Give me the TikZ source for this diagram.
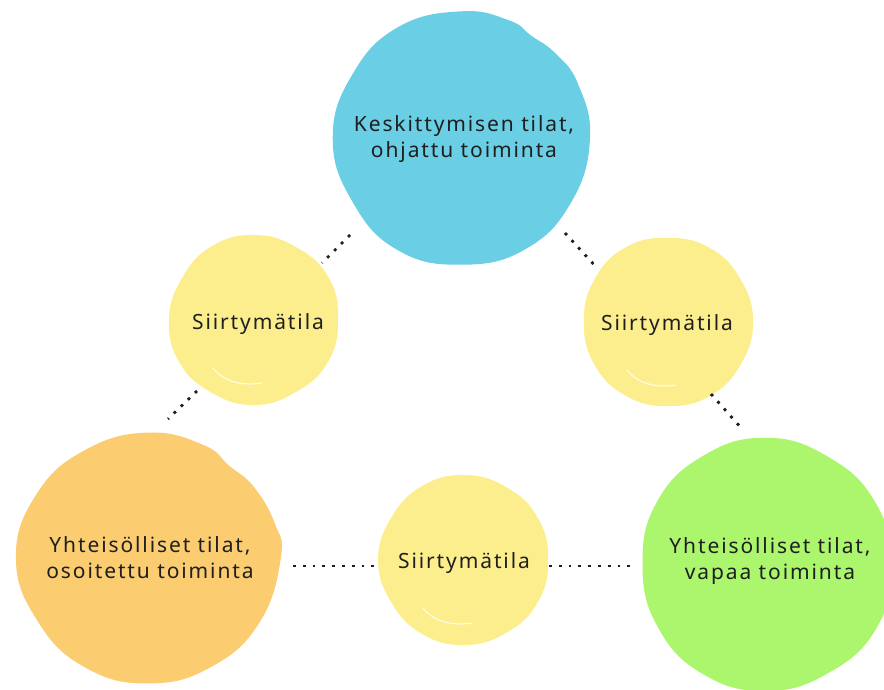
\documentclass[tikz,border=0pt]{standalone}
\usepackage{fontspec}
\setmainfont{Noto Sans}[LetterSpace=9]

\definecolor{focusblue}{RGB}{106,206,228}
\definecolor{transyellow}{RGB}{252,238,140}
\definecolor{guidedorange}{RGB}{251,205,112}
\definecolor{freegreen}{RGB}{172,246,110}
\definecolor{dotgray}{RGB}{30,30,30}

% a hand-painted disc: colour, centre, radius, wobbly outline (unit radius)
\newcommand\paintblob[4]{%
  \fill[#1, shift={#2}, scale=#3]
    plot[smooth cycle, tension=0.75] coordinates {#4};}
% light brush streak on the yellow discs
\newcommand\brushstreak[1]{%
  \draw[white, line width=1.2pt, opacity=0.8, line cap=round, shift={#1}]
    (-41,48) .. controls (-30,62) and (-12,66) .. (8,63);}

\begin{document}
\begin{tikzpicture}[x=1pt,y=-1pt,
  blobtext/.style={align=center, font=\fontsize{21}{26}\selectfont,
                   text=black!88, inner sep=0pt},
  dotlink/.style={dotgray, line width=2.8pt, dash pattern=on 2.8pt off 7pt}]
\useasboundingbox (0,0) rectangle (884,690);
\clip (0,0) rectangle (884,690);

% discs
\paintblob{focusblue}{(462,138)}{128}{(0:1.0) (30:0.99) (60:1.0) (90:0.99)
  (120:1.01) (150:0.99) (180:1.01) (210:0.99) (240:1.0) (270:0.99)
  (292:0.99) (304:0.965) (318:0.985) (335:1.0)}
\paintblob{transyellow}{(254,320)}{85}{(0:0.99) (30:1.0) (60:0.98) (90:1.0)
  (120:0.99) (150:1.01) (180:1.0) (210:0.98) (240:1.0) (270:1.0)
  (300:0.99) (330:1.01)}
\paintblob{transyellow}{(668,322)}{85}{(0:1.0) (30:0.99) (60:1.0) (90:0.99)
  (120:1.0) (150:1.0) (180:0.99) (210:1.0) (240:1.01) (270:0.99)
  (300:1.0) (330:0.99)}
\paintblob{transyellow}{(464,560)}{85}{(0:0.99) (30:1.0) (60:0.99) (90:1.0)
  (120:1.0) (150:0.99) (180:1.01) (210:0.99) (240:1.0) (270:1.0)
  (300:0.99) (330:1.0)}
\paintblob{guidedorange}{(149,558)}{128}{(0:1.03) (30:1.0) (60:0.98)
  (90:0.98) (120:0.99) (150:1.0) (180:1.04) (210:1.01) (240:0.98)
  (270:0.98) (296:0.98) (311:0.955) (326:0.99) (345:1.02)}
\paintblob{freegreen}{(766,565)}{126}{(0:1.0) (30:1.01) (60:0.99)
  (90:1.0) (120:1.0) (150:0.99) (180:0.98) (210:1.0) (240:1.0)
  (270:1.01) (300:0.99) (330:1.0)}

\brushstreak{(254,320)}
\brushstreak{(668,322)}
\brushstreak{(464,560)}

% labels
\node[blobtext] (focus)  at (464,139) {Keskittymisen tilat,\\ohjattu toiminta};
\node[blobtext, anchor=base] (transL) at (258,329) {Siirtymätila};
\node[blobtext, anchor=base] (transR) at (667,330) {Siirtymätila};
\node[blobtext, anchor=base] (transB) at (464,568) {Siirtymätila};
\node[blobtext] (guided) at (150,558) {Yhteisölliset tilat,\\osoitettu toiminta};
\node[blobtext] (free)   at (770,561) {Yhteisölliset tilat,\\vapaa toiminta};

% ends of the dotted links in the gaps between discs
\coordinate (focusSW)  at (350,235);
\coordinate (transLNE) at (322,263);
\coordinate (transLSW) at (197,391);
\coordinate (guidedNE) at (168,419);
\coordinate (focusSE)  at (565,233);
\coordinate (transRNW) at (598,269);
\coordinate (transRSE) at (711,394);
\coordinate (freeNW)   at (743,430);
\coordinate (guidedE)  at (293,566);
\coordinate (transBW)  at (374,566);
\coordinate (transBE)  at (549,566);
\coordinate (freeW)    at (630,566);

\draw[dotlink] (focusSW) -- (transLNE);
\draw[dotlink] (transLSW) -- (guidedNE);
\draw[dotlink] (focusSE) -- (transRNW);
\draw[dotlink] (transRSE) -- (freeNW);
\draw[dotlink] (guidedE) -- (transBW);
\draw[dotlink] (transBE) -- (freeW);
\end{tikzpicture}
\end{document}
